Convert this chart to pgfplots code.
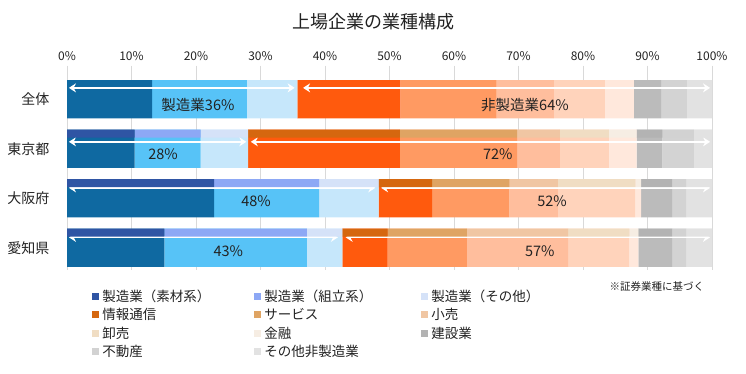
\documentclass[border=0pt]{standalone}
\usepackage{fontspec}
\setmainfont{Noto Sans CJK JP}
\usepackage{pgfplots}
\pgfplotsset{compat=1.18}
\usetikzlibrary{arrows.meta}
% bar (bright) colours
\definecolor{b1}{HTML}{0F69A1}
\definecolor{b2}{HTML}{57C3F7}
\definecolor{b3}{HTML}{C6E7FB}
\definecolor{b4}{HTML}{FF5A0D}
\definecolor{b5}{HTML}{FF9A62}
\definecolor{b6}{HTML}{FFBE9D}
\definecolor{b7}{HTML}{FFD3BB}
\definecolor{b8}{HTML}{FFE8DC}
\definecolor{b9}{HTML}{BBBBBB}
\definecolor{b10}{HTML}{D3D3D3}
\definecolor{b11}{HTML}{E2E2E2}
% legend colours
\definecolor{l1}{HTML}{2F55A4}
\definecolor{l2}{HTML}{8DA8F5}
\definecolor{l3}{HTML}{D5E2F8}
\definecolor{l4}{HTML}{D5670F}
\definecolor{l5}{HTML}{DFA463}
\definecolor{l6}{HTML}{F0C6A3}
\definecolor{l7}{HTML}{F0DDC3}
\definecolor{l8}{HTML}{F6EDE3}
\definecolor{l9}{HTML}{B3B3B3}
\definecolor{l10}{HTML}{D2D2D2}
\definecolor{l11}{HTML}{E2E2E2}
\definecolor{txt}{HTML}{222222}
\begin{document}
\begin{tikzpicture}
\path[use as bounding box] (0,0) rectangle (746pt,373pt);
\node[font=\fontsize{18}{21}\selectfont, text=txt] at (373pt,351pt) {上場企業の業種構成};
\node[anchor=west, font=\fontsize{10.5}{12}\selectfont, text=txt] at (606pt,86pt) {※証券業種に基づく};
\pgfplotsset{common/.style={scale only axis, width=645pt, height=204.4pt,
  at={(67pt,103pt)}, anchor=south west, xmin=0, xmax=100, ymin=-0.68, ymax=3.45,
  y dir=reverse, xbar stacked}}
% main bars
\begin{axis}[common, bar width=0.77,
  axis line style={draw=none}, tick style={draw=none}, major tick length=0pt,
  xmajorgrids, grid style={color=black!15, line width=0.7pt},
  xtick={0,10,...,100}, xticklabel pos=upper,
  xticklabel={\pgfmathprintnumber{\tick}\%},
  /pgf/number format/assume math mode=true,
  xticklabel style={font=\fontsize{12}{14}\selectfont, text=txt, anchor=center, yshift=9pt},
  ytick={0,1,2,3}, yticklabels={全体,東京都,大阪府,愛知県},
  yticklabel style={font=\fontsize{14}{16}\selectfont, text=txt, anchor=east, xshift=-14pt},
  every axis plot/.append style={draw=none}]
\addplot[fill=b1] coordinates {(13.2,0) (10.5,1) (22.8,2) (15.1,3)};
\addplot[fill=b2] coordinates {(14.7,0) (10.2,1) (16.3,2) (22.1,3)};
\addplot[fill=b3] coordinates {(7.8,0) (7.4,1) (9.2,2) (5.5,3)};
\addplot[fill=b4] coordinates {(16.0,0) (23.5,1) (8.3,2) (7.0,3)};
\addplot[fill=b5] coordinates {(14.9,0) (18.2,1) (12.0,2) (12.3,3)};
\addplot[fill=b6] coordinates {(8.9,0) (6.6,1) (7.5,2) (15.7,3)};
\addplot[fill=b7] coordinates {(7.9,0) (7.6,1) (12.0,2) (9.5,3)};
\addplot[fill=b8] coordinates {(4.5,0) (4.3,1) (0.9,2) (1.4,3)};
\addplot[fill=b9] coordinates {(4.2,0) (4.0,1) (4.8,2) (5.2,3)};
\addplot[fill=b10] coordinates {(4.0,0) (4.9,1) (2.2,2) (2.2,3)};
\addplot[fill=b11] coordinates {(3.9,0) (2.8,1) (4.0,2) (4.0,3)};
\end{axis}
% thin top strips + legend + annotations
\begin{axis}[common, bar width=0.16, bar shift=-0.305,
  axis line style={draw=none}, tick style={draw=none}, major tick length=0pt,
  xtick=\empty, ytick=\empty,
  every axis plot/.append style={draw=none},
  legend columns=3, legend cell align=left,
  legend style={at={(0.039,-0.088)}, anchor=north west, draw=none, fill=none,
    font=\fontsize{13.5}{15}\selectfont, text=txt, inner sep=0pt, row sep=2.6pt,
    column sep=0pt, nodes={inner xsep=3pt, inner ysep=1.5pt}},
  legend image code/.code={\fill[#1] (0pt,-3.5pt) rectangle (7pt,3.5pt);}]
\addplot[fill=l1] coordinates {(10.5,1) (22.8,2) (15.1,3)};
\addlegendentry{\makebox[149pt][l]{製造業（素材系）}}
\addplot[fill=l2] coordinates {(10.2,1) (16.3,2) (22.1,3)};
\addlegendentry{\makebox[154pt][l]{製造業（組立系）}}
\addplot[fill=l3] coordinates {(7.4,1) (9.2,2) (5.5,3)};
\addlegendentry{製造業（その他）}
\addplot[fill=l4] coordinates {(23.5,1) (8.3,2) (7.0,3)};
\addlegendentry{\makebox[149pt][l]{情報通信}}
\addplot[fill=l5] coordinates {(18.2,1) (12.0,2) (12.3,3)};
\addlegendentry{\makebox[154pt][l]{サービス}}
\addplot[fill=l6] coordinates {(6.6,1) (7.5,2) (15.7,3)};
\addlegendentry{小売}
\addplot[fill=l7] coordinates {(7.6,1) (12.0,2) (9.5,3)};
\addlegendentry{\makebox[149pt][l]{卸売}}
\addplot[fill=l8] coordinates {(4.3,1) (0.9,2) (1.4,3)};
\addlegendentry{\makebox[154pt][l]{金融}}
\addplot[fill=l9] coordinates {(4.0,1) (4.8,2) (5.2,3)};
\addlegendentry{建設業}
\addplot[fill=l10] coordinates {(4.9,1) (2.2,2) (2.2,3)};
\addlegendentry{\makebox[149pt][l]{不動産}}
\addplot[fill=l11] coordinates {(2.8,1) (4.0,2) (4.0,3)};
\addlegendentry{\makebox[154pt][l]{その他非製造業}}
% arrows
\tikzset{arr/.style={draw=white, line width=2.2pt, {Stealth[length=7pt,width=9pt]}-{Stealth[length=7pt,width=9pt]}}}
\draw[arr] (axis cs:0.3,-0.23) -- (axis cs:35.3,-0.23);
\draw[arr] (axis cs:36.6,-0.23) -- (axis cs:99.7,-0.23);
\draw[arr] (axis cs:0.3,0.86) -- (axis cs:27.8,0.86);
\draw[arr] (axis cs:28.5,0.86) -- (axis cs:99.7,0.86);
\draw[arr] (axis cs:0.3,1.79) -- (axis cs:47.8,1.79);
\draw[arr] (axis cs:48.7,1.79) -- (axis cs:99.7,1.79);
\draw[arr] (axis cs:0.3,2.79) -- (axis cs:42.0,2.79);
\draw[arr] (axis cs:43.2,2.79) -- (axis cs:99.7,2.79);
% labels
\tikzset{lab/.style={font=\fontsize{14.5}{16}\selectfont, text=txt}}
\node[lab] at (axis cs:20.3,0.11) {製造業36\%};
\node[lab] at (axis cs:71.0,0.11) {非製造業64\%};
\node[lab] at (axis cs:14.9,1.11) {28\%};
\node[lab] at (axis cs:66.8,1.11) {72\%};
\node[lab] at (axis cs:29.3,2.06) {48\%};
\node[lab] at (axis cs:75.2,2.06) {52\%};
\node[lab] at (axis cs:25.0,3.07) {43\%};
\node[lab] at (axis cs:73.3,3.07) {57\%};
\end{axis}
\end{tikzpicture}
\end{document}
